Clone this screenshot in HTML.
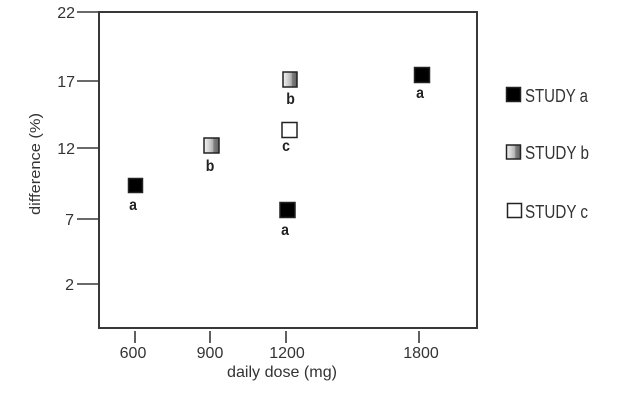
<!DOCTYPE html>
<html>
<head>
<meta charset="utf-8">
<style>
html,body{margin:0;padding:0;background:#fff;}
svg{display:block;}
text{font-family:"Liberation Sans",Arial,sans-serif;fill:#333;}
.b{font-weight:bold;fill:#222;font-size:16px;}
</style>
</head>
<body>
<svg width="638" height="410" viewBox="0 0 638 410" xmlns="http://www.w3.org/2000/svg">
<defs>
<linearGradient id="g" x1="0" y1="0" x2="1" y2="0">
<stop offset="0" stop-color="#f2f2f2"/>
<stop offset="0.35" stop-color="#d0d0d0"/>
<stop offset="0.6" stop-color="#b0b0b0"/>
<stop offset="0.65" stop-color="#808080"/>
<stop offset="1" stop-color="#606060"/>
</linearGradient>
</defs>
<!-- frame -->
<rect x="99" y="12" width="378" height="316" fill="none" stroke="#383838" stroke-width="2"/>
<!-- ticks -->
<g stroke="#383838" stroke-width="1.6">
<line x1="77" y1="12" x2="99" y2="12"/>
<line x1="77" y1="81" x2="99" y2="81"/>
<line x1="77" y1="148" x2="99" y2="148"/>
<line x1="77" y1="219" x2="99" y2="219"/>
<line x1="77" y1="284" x2="99" y2="284"/>
<line x1="135" y1="331" x2="135" y2="343"/>
<line x1="210" y1="331" x2="210" y2="343"/>
<line x1="286" y1="331" x2="286" y2="343"/>
<line x1="419" y1="331" x2="419" y2="343"/>
</g>
<g font-size="16" text-anchor="end" style="fill:#2a2a2a">
<text x="75" y="18">22</text>
<text x="75" y="87">17</text>
<text x="75" y="154">12</text>
<text x="74" y="225">7</text>
<text x="74" y="290">2</text>
</g>
<g font-size="16" text-anchor="middle" style="fill:#2a2a2a">
<text x="133" y="358">600</text>
<text x="210" y="358">900</text>
<text x="287" y="358">1200</text>
<text x="421" y="358">1800</text>
</g>
<text x="227" y="377" font-size="16" textLength="110" lengthAdjust="spacingAndGlyphs">daily dose (mg)</text>
<text transform="translate(40,164) rotate(-90)" font-size="15" text-anchor="middle" textLength="102" lengthAdjust="spacingAndGlyphs">difference (%)</text>

<!-- data points -->
<g stroke="#222" stroke-width="1.5">
<rect x="128.5" y="178.5" width="14" height="14" fill="#000"/>
<rect x="204" y="138" width="15" height="15" fill="url(#g)"/>
<rect x="283" y="72" width="14" height="15" fill="url(#g)"/>
<rect x="282" y="122.5" width="15" height="15" fill="#fff"/>
<rect x="280" y="202.5" width="15" height="15" fill="#000"/>
<rect x="414.5" y="67.5" width="15" height="15" fill="#000"/>
</g>
<g text-anchor="middle">
<text class="b" transform="translate(133,210) scale(0.88,1)">a</text>
<text class="b" transform="translate(210,171) scale(0.88,1)">b</text>
<text class="b" transform="translate(290.5,104) scale(0.88,1)">b</text>
<text class="b" transform="translate(286,151) scale(0.88,1)">c</text>
<text class="b" transform="translate(285,235) scale(0.88,1)">a</text>
<text class="b" transform="translate(420,98) scale(0.88,1)">a</text>
</g>

<!-- legend -->
<g stroke="#222" stroke-width="1.5">
<rect x="506.5" y="87.5" width="14" height="14" fill="#000"/>
<rect x="506.5" y="145" width="14" height="14" fill="url(#g)"/>
<rect x="507.5" y="203.5" width="14" height="14" fill="#fff"/>
</g>
<g font-size="18">
<text x="525" y="102" textLength="63" lengthAdjust="spacingAndGlyphs">STUDY a</text>
<text x="525" y="159" textLength="64" lengthAdjust="spacingAndGlyphs">STUDY b</text>
<text x="525" y="218" textLength="63" lengthAdjust="spacingAndGlyphs">STUDY c</text>
</g>
</svg>
</body>
</html>
